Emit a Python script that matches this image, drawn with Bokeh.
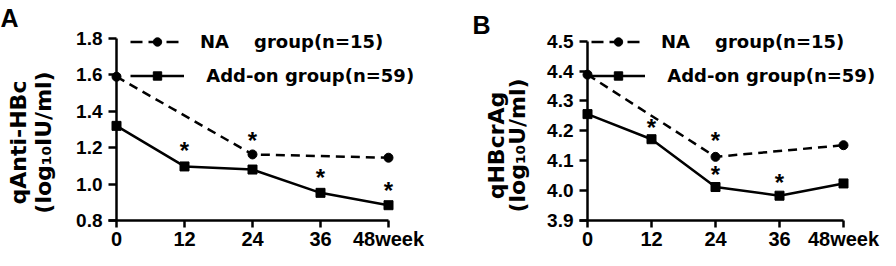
import math
from bokeh.plotting import figure
from bokeh.models import (Range1d, FixedTicker, Legend, LegendItem, Label,
                          ColumnDataSource, PrintfTickFormatter)
from bokeh.layouts import row
from bokeh.embed import file_html
from bokeh.resources import INLINE
from bokeh.core.properties import value

# ---------------- data ----------------
weeks = [0, 12, 24, 36, 48]
x_tick_labels = ["0", "12", "24", "36", "48week"]
na_weeks = [0, 24, 48]

legend_na = "NA\u00a0\u00a0\u00a0\u00a0group(n=15)"
legend_add = "\u00a0Add-on group(n=59)"

# Panel A: qAnti-HBc
a_na_vals = [1.59, 1.163, 1.145]
a_add_vals = [1.32, 1.097, 1.08, 0.952, 0.884]
a_star_weeks = [12, 24, 36, 48]
a_star_vals = [1.20, 1.256, 1.054, 0.98]
a_yticks = [0.8, 1.0, 1.2, 1.4, 1.6, 1.8]
a_ytick_labels = ["0.8", "1.0", "1.2", "1.4", "1.6", "1.8"]

# Panel B: qHBcrAg
b_na_vals = [4.388, 4.113, 4.152]
b_add_vals = [4.256, 4.172, 4.012, 3.983, 4.024]
b_star_weeks = [12, 24, 24, 36]
b_star_vals = [4.22, 4.177, 4.065, 4.038]
b_yticks = [3.9, 4.0, 4.1, 4.2, 4.3, 4.4, 4.5]
b_ytick_labels = ["3.9", "4.0", "4.1", "4.2", "4.3", "4.4", "4.5"]

TICK_FONT = "Liberation Sans"
TEXT_FONT = "DejaVu Sans"
H = 250
NAN = float("nan")


def span(v0, v1, p0, p1, total):
    """Range so that value v0 sits at pixel p0 and v1 at pixel p1 (0..total)."""
    s = (p1 - p0) / (v1 - v0)
    return v0 - p0 / s, v0 + (total - p0) / s


def make_panel(letter, title1, title2, yticks, ylabels, na_vals, add_vals,
               star_w, star_v, W, x0px, x48px, ytop_px, ybot_px,
               leg_x, t1x, t2x, ty, let_x, let_y):
    xr = span(weeks[0], weeks[-1], x0px, x48px, W)
    yb, yt = span(yticks[-1], yticks[0], ytop_px, ybot_px, H)  # pixels from top
    p = figure(width=W, height=H, min_border=0,
               x_range=Range1d(*xr), y_range=Range1d(yt, yb),
               output_backend="svg", toolbar_location=None, tools="")
    p.title.visible = False
    p.outline_line_color = None
    p.grid.visible = False
    p.background_fill_color = "white"
    p.border_fill_color = "white"

    # x axis
    xa = p.xaxis[0]
    xa.fixed_location = yticks[0]
    xa.ticker = FixedTicker(ticks=weeks)
    xa.major_label_overrides = {w: l for w, l in zip(weeks, x_tick_labels)}
    xa.bounds = (weeks[0] - 8.0 * (xr[1] - xr[0]) / W, weeks[-1])
    xa.major_tick_out = 7
    xa.major_tick_in = 0
    xa.minor_tick_out = 0
    xa.minor_tick_in = 0
    xa.axis_line_width = 2.5
    xa.major_tick_line_width = 2.5
    xa.major_label_standoff = 0
    xa.major_label_text_font = TICK_FONT
    xa.major_label_text_font_style = "bold"
    xa.major_label_text_font_size = "20px"
    xa.major_label_text_color = "black"

    # y axis
    ya = p.yaxis[0]
    ya.fixed_location = weeks[0]
    ya.bounds = (yticks[0], yticks[-1])
    ya.ticker = FixedTicker(ticks=yticks)
    ya.formatter = PrintfTickFormatter(format="%.1f")
    ya.major_label_overrides = {t: l for t, l in zip(yticks, ylabels)}
    ya.major_tick_out = 8
    ya.major_tick_in = 0
    ya.minor_tick_out = 0
    ya.minor_tick_in = 0
    ya.axis_line_width = 2.5
    ya.major_tick_line_width = 2.5
    ya.major_label_standoff = 6
    ya.major_label_text_font = TICK_FONT
    ya.major_label_text_font_style = "bold"
    ya.major_label_text_font_size = "19px"
    ya.major_label_text_color = "black"

    na_src = ColumnDataSource(dict(x=na_weeks, y=na_vals))
    add_src = ColumnDataSource(dict(x=weeks, y=add_vals))

    p.line("x", "y", source=na_src, line_color="black", line_width=2.5,
           line_dash="9 6")
    p.scatter("x", "y", source=na_src, marker="circle", size=9,
              fill_color="black", line_color="black")
    p.line("x", "y", source=add_src, line_color="black", line_width=2.5)
    p.scatter("x", "y", source=add_src, marker="square", size=9,
              fill_color="black", line_color="black")

    star_src = ColumnDataSource(dict(x=star_w, y=star_v, t=["*"] * len(star_w)))
    p.text("x", "y", text="t", source=star_src, text_font=value(TICK_FONT),
           text_font_style="bold", text_font_size="24px", text_color="black",
           text_align="center", text_baseline="middle", y_offset=3)

    # legend-only renderers (hold no visible point)
    ln_na = p.line(x=[NAN], y=[NAN], line_color="black", line_width=2.5,
                   line_dash="12 6")
    mk_na = p.scatter(x=[NAN], y=[NAN], marker="circle", size=13,
                      fill_color="black", line_color="black")
    ln_add = p.line(x=[NAN], y=[NAN], line_color="black", line_width=2.5)
    mk_add = p.scatter(x=[NAN], y=[NAN], marker="square", size=11,
                       fill_color="black", line_color="black")
    legend = Legend(items=[LegendItem(label=legend_na, renderers=[ln_na, mk_na]),
                           LegendItem(label=legend_add, renderers=[ln_add, mk_add])],
                    location=(leg_x, 164), padding=0, margin=0, spacing=13,
                    glyph_width=54, glyph_height=21, label_height=21,
                    label_standoff=16, border_line_color=None,
                    background_fill_alpha=0,
                    label_text_font=TEXT_FONT, label_text_font_style="bold",
                    label_text_font_size="18px", label_text_color="black")
    p.add_layout(legend)

    for txt, tx in ((title1, t1x), (title2, t2x)):
        p.add_layout(Label(x=tx, y=ty, x_units="screen", y_units="screen",
                           text=txt, angle=math.pi / 2, text_align="center",
                           text_baseline="middle", text_font=TEXT_FONT,
                           text_font_style="bold", text_font_size="22px",
                           text_color="black"))
    p.add_layout(Label(x=let_x, y=let_y, x_units="screen", y_units="screen",
                       text=letter, text_align="left", text_baseline="top",
                       text_font=TICK_FONT, text_font_style="bold",
                       text_font_size="25px", text_color="black"))
    return p


pa = make_panel("A", "qAnti-HBc", "(log\u2081\u2080IU/ml)", a_yticks, a_ytick_labels,
                a_na_vals, a_add_vals, a_star_weeks, a_star_vals,
                W=471, x0px=116, x48px=388, ytop_px=38, ybot_px=220,
                leg_x=130, t1x=18, t2x=43, ty=108, let_x=0, let_y=247)

pb = make_panel("B", "qHBcrAg", "(log\u2081\u2080U/ml)", b_yticks, b_ytick_labels,
                b_na_vals, b_add_vals, b_star_weeks, b_star_vals,
                W=409, x0px=116, x48px=372, ytop_px=40.7, ybot_px=220,
                leg_x=120, t1x=25, t2x=46, ty=105, let_x=1, let_y=240)

layout = row(pa, pb)
open("out.html", "w").write(file_html(layout, INLINE))
